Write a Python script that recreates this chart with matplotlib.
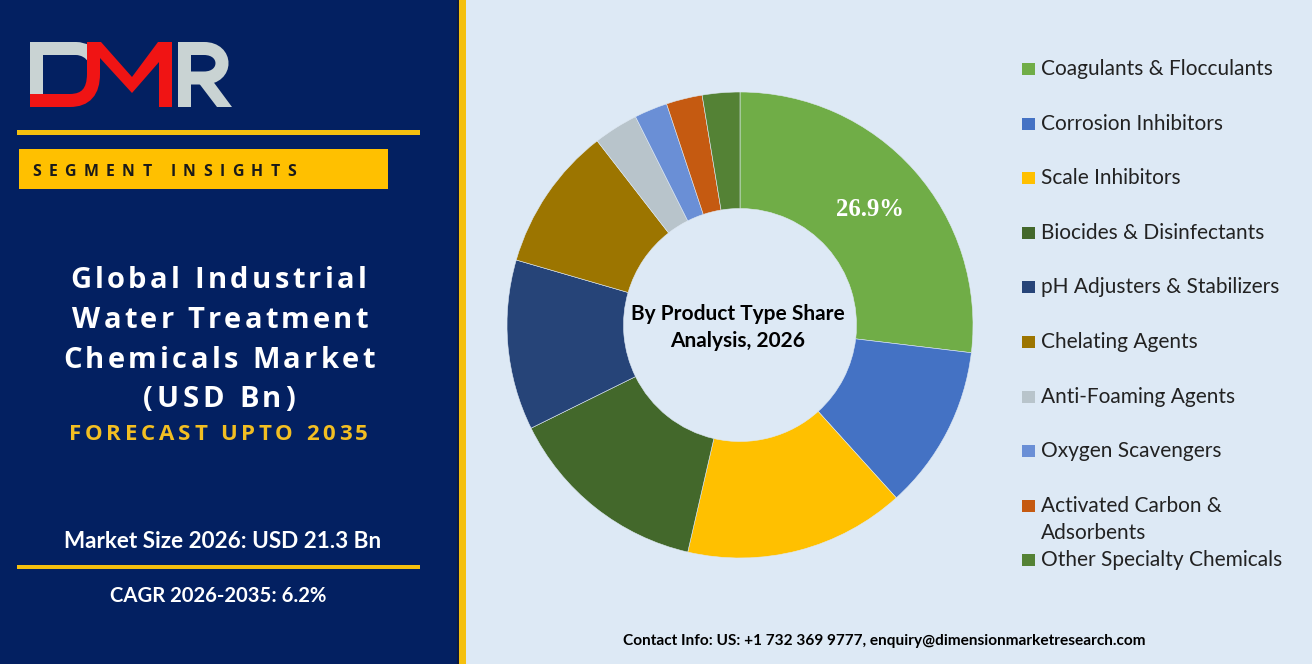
import matplotlib
matplotlib.use('Agg')
import matplotlib.pyplot as plt
from matplotlib import font_manager
from matplotlib.path import Path
from matplotlib.patches import PathPatch, Rectangle, Polygon
import numpy as np

W, H, DPI = 1312, 664, 100

# product type shares 2026 (%)
categories = ['Coagulants & Flocculants', 'Corrosion Inhibitors', 'Scale Inhibitors',
              'Biocides & Disinfectants', 'pH Adjusters & Stabilizers', 'Chelating Agents',
              'Anti-Foaming Agents', 'Oxygen Scavengers', 'Activated Carbon &\nAdsorbents',
              'Other Specialty Chemicals']
shares = [26.9, 11.4, 15.3, 14.1, 11.8, 10.0, 3.1, 2.3, 2.5, 2.6]
colors = ['#70AD47', '#4472C4', '#FFC000', '#43682B', '#264478', '#9C7500',
          '#B8C4CB', '#6A8FD6', '#C55A11', '#548235']

title_lines = ['Global Industrial', 'Water Treatment', 'Chemicals Market', '(USD Bn)']
forecast = 'FORECAST UPTO 2035'
market_size = 'Market Size 2026: USD 21.3 Bn'
cagr = 'CAGR 2026-2035: 6.2%'
center_lines = ['By Product Type Share', 'Analysis, 2026']
contact = 'Contact Info: US: +1 732 369 9777, enquiry@dimensionmarketresearch.com'

NAVY = '#032061'
GOLD = '#F5C00F'
LIGHT = '#DDE9F5'

fig = plt.figure(figsize=(W / DPI, H / DPI), dpi=DPI)
bg = fig.add_axes([0, 0, 1, 1])
bg.set_xlim(0, W)
bg.set_ylim(H, 0)
bg.axis('off')


def advances(s, family, weight, size):
    fp = font_manager.FontProperties(family=family, weight=weight)
    font = font_manager.get_font(font_manager.findfont(fp))
    font.set_size(size, DPI)
    return [font.load_char(ord(c)).linearHoriAdvance / 65536 for c in s]


def fit_size(s, family, weight, width):
    return 10 * width / sum(advances(s, family, weight, 10))


def tracked(x0, x1, base, s, family, weight, size, color):
    adv = advances(s, family, weight, size)
    tr = ((x1 - x0) - sum(adv)) / (len(s) - 1)
    x = x0
    for c, a in zip(s, adv):
        bg.text(x, base, c, fontsize=size, family=family, weight=weight,
                color=color, ha='left', va='baseline')
        x += a + tr


# panels
bg.add_patch(Rectangle((0, 0), 457, H, color=NAVY, lw=0))
bg.add_patch(Rectangle((457, 0), 2, H, color='#0d1a3e', lw=0))
bg.add_patch(Rectangle((459, 0), 7, H, color=GOLD, lw=0))
bg.add_patch(Rectangle((466, 0), W - 466, H, color=LIGHT, lw=0))

# logo
GRAY = '#C9D3D3'
RED = '#F01414'
lw = 13 * 72 / DPI
bg.add_patch(PathPatch(Path([(36.5, 97), (36.5, 48.5), (76, 48.5), (88, 48.5), (95, 60)],
                            [Path.MOVETO, Path.LINETO, Path.LINETO, Path.CURVE3, Path.CURVE3]),
                       fill=False, ec=GRAY, lw=lw, capstyle='butt', joinstyle='miter'))
bg.add_patch(PathPatch(Path([(30, 100.5), (70, 100.5), (93.5, 100.5), (93.5, 74), (93.5, 50)],
                            [Path.MOVETO, Path.LINETO, Path.CURVE3, Path.CURVE3, Path.LINETO]),
                       fill=False, ec=RED, lw=lw, capstyle='butt', joinstyle='miter'))
bg.add_patch(Polygon([(87, 42), (101, 42), (132, 77), (158, 42), (172, 42), (172, 107),
                      (159, 107), (159, 62), (132, 93), (100, 58), (87, 58)],
                     closed=True, color=RED, lw=0))
bg.add_patch(PathPatch(Path([(184.5, 107), (184.5, 48.5), (204, 48.5), (228, 48.5),
                             (228, 78), (204, 78), (184.5, 78)],
                            [Path.MOVETO, Path.LINETO, Path.LINETO, Path.CURVE4, Path.CURVE4,
                             Path.CURVE4, Path.LINETO]),
                       fill=False, ec=GRAY, lw=lw, capstyle='butt', joinstyle='miter'))
bg.add_patch(Polygon([(198, 82), (212, 80), (232, 107), (217, 107)], closed=True, color=GRAY, lw=0))

# yellow rules and the segment insights box
bg.add_patch(Rectangle((17, 130), 403, 5, color=GOLD, lw=0))
bg.add_patch(Rectangle((19, 149), 369, 40, color='#FFC000', lw=0))
tracked(32, 296, 176, 'SEGMENT INSIGHTS', 'Open Sans', 'bold', 11.4, '#1a1a1a')

# title block
title_x = [(70, 367), (72, 368), (63, 375), (143, 295)]
title_base = [288, 328, 368, 407]
for line, (x0, x1), b in zip(title_lines, title_x, title_base):
    tracked(x0, x1, b, line, 'Open Sans', 'bold', 21.0, 'white')
tracked(69, 368, 440, forecast, 'Open Sans', 'bold', 16.0, '#F2BE22')

s = fit_size(market_size, 'Lato', 'bold', 317)
bg.text(223, 548, market_size, fontsize=s, family='Lato', weight='bold', color='white',
        ha='center', va='baseline')
bg.add_patch(Rectangle((17, 565), 403, 4, color=GOLD, lw=0))
s = fit_size(cagr, 'Lato', 'bold', 217)
bg.text(218, 602, cagr, fontsize=s, family='Lato', weight='bold', color='white',
        ha='center', va='baseline')

# donut
cx, cy, R = 740, 325, 233
ax = fig.add_axes([(cx - R) / W, 1 - (cy + R) / H, 2 * R / W, 2 * R / H])
wedges, _ = ax.pie(shares, colors=colors, startangle=90, counterclock=False, radius=1,
                   wedgeprops=dict(width=0.5, edgecolor='#dfe9f4', linewidth=0.4))
ax.set_xlim(-1, 1)
ax.set_ylim(-1, 1)
ax.axis('off')
ax.patch.set_alpha(0)

w0 = wedges[0]
mid = np.deg2rad((w0.theta1 + w0.theta2) / 2)
lab = f'{shares[0]:.1f}%'
s = fit_size(lab, 'Liberation Serif', 'bold', 68)
ax.text(0.745 * np.cos(mid), 0.745 * np.sin(mid), lab, fontsize=s, family='Liberation Serif',
        weight='bold', color='white', ha='center', va='center')

s = fit_size(center_lines[0], 'Lato', 'bold', 213)
bg.text(738, 320, center_lines[0], fontsize=s, family='Lato', weight='bold', color='black',
        ha='center', va='baseline')
bg.text(738, 347, center_lines[1], fontsize=s, family='Lato', weight='bold', color='black',
        ha='center', va='baseline')

# legend
leg_size = fit_size(categories[0], 'Lato', 'normal', 231)
y = 75
for lab, col in zip(categories, colors):
    bg.add_patch(Rectangle((1022, y - 12), 13, 12, color=col, lw=0))
    parts = lab.split('\n')
    for i, part in enumerate(parts):
        bg.text(1041, y + i * 27, part, fontsize=leg_size, family='Lato', color='#222222',
                ha='left', va='baseline')
    y += 54.6 if len(parts) == 1 else 54

# contact line
s = fit_size(contact, 'Lato', 'bold', 522)
bg.text(884, 645, contact, fontsize=s, family='Lato', weight='bold', color='black',
        ha='center', va='baseline')

fig.savefig('out.png', dpi=DPI)
